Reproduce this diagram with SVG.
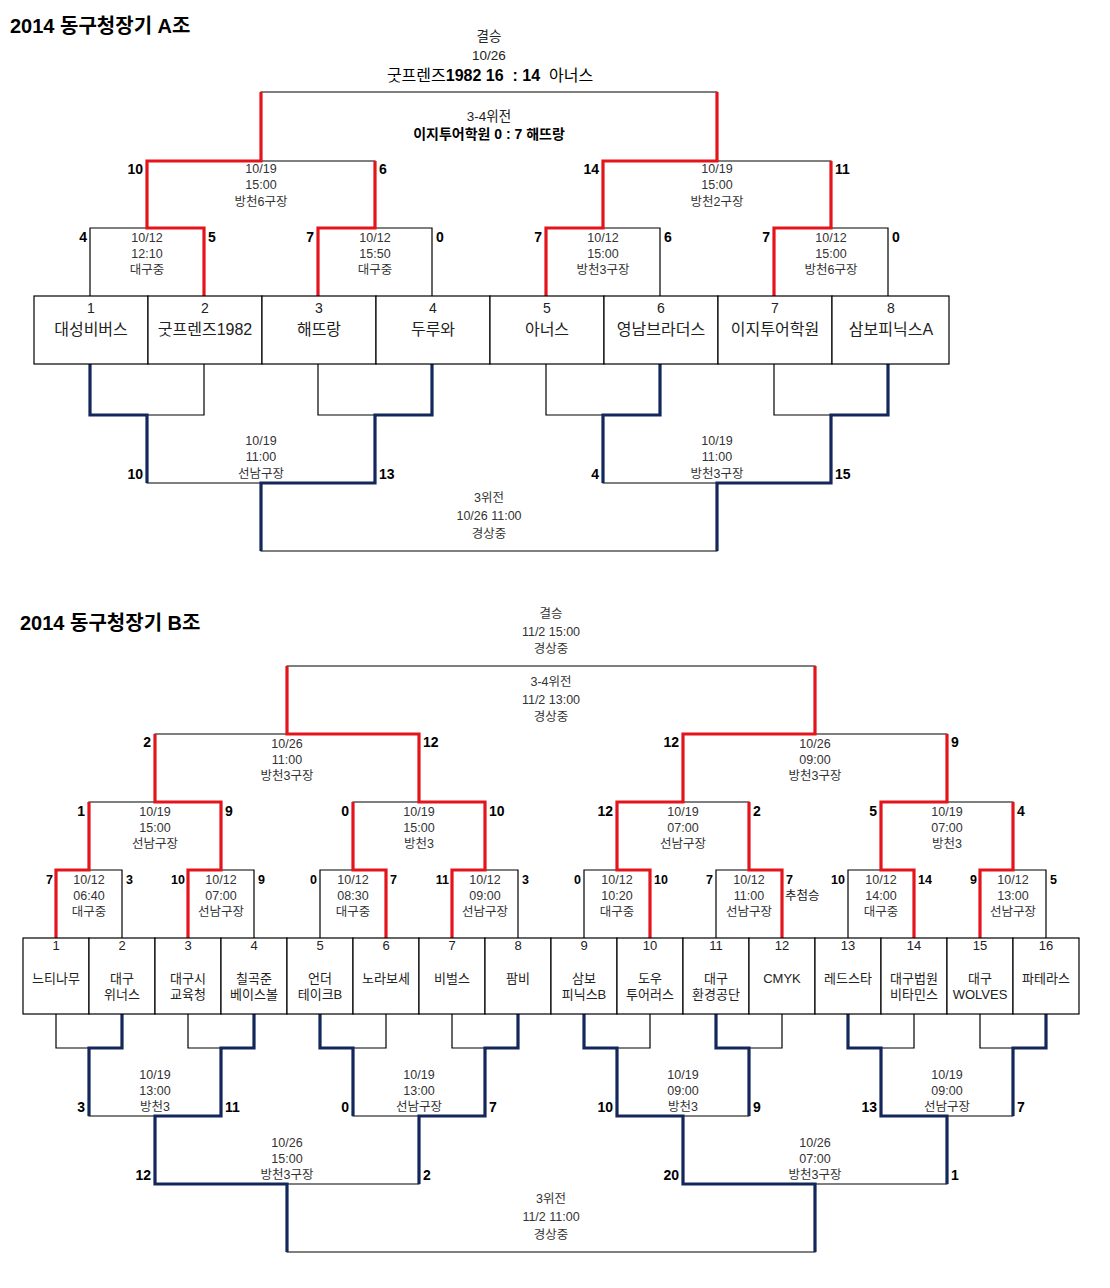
<svg xmlns="http://www.w3.org/2000/svg" width="1110" height="1288" viewBox="0 0 1110 1288">
<style>
text{font-family:"Liberation Sans","Noto Sans CJK KR",sans-serif;}
.th{fill:none;stroke:#000;stroke-width:1.2}
.rd{fill:none;stroke:#e3141c;stroke-width:3.2;stroke-linejoin:miter}
.nv{fill:none;stroke:#13275a;stroke-width:3.2;stroke-linejoin:miter}
.box{fill:#fff;stroke:#000;stroke-width:1.2}
.ttl{font-size:20px;font-weight:bold;fill:#000}
.d{font-size:12.5px;fill:#333;text-anchor:middle}
.h{font-size:13.5px;fill:#222;text-anchor:middle}
.s{font-size:14px;font-weight:bold;fill:#000}
.s2{font-size:12.5px;font-weight:bold;fill:#000}
.e{text-anchor:end}
.tn{font-size:14px;fill:#222;text-anchor:middle}
.tm{font-size:16px;fill:#222;text-anchor:middle}
.bn{font-size:13px;fill:#222;text-anchor:middle}
</style>
<rect width="1110" height="1288" fill="#fff"/>

<text class="ttl" x="10" y="33">2014 동구청장기 A조</text>
<text class="ttl" x="20" y="630">2014 동구청장기 B조</text>

<g id="connectors">
<path class="th" d="M90 296V228H204V296M318 296V228H432V296M546 296V228H660V296M774 296V228H888V296M147 228V161H375V228M603 228V161H831V228M261 161V92H717V161"/>
<path class="th" d="M90 364V415H204V364M318 364V415H432V364M546 364V415H660V364M774 364V415H888V364M147 415V483H375V415M603 415V483H831V415M261 483V551H717V483"/>
<path class="rd" d="M204 296V228H147V161H261V92"/>
<path class="rd" d="M318 296V228H375V161"/>
<path class="rd" d="M546 296V228H603V161H717V92"/>
<path class="rd" d="M774 296V228H831V161"/>
<path class="nv" d="M90 364V415H147V483"/>
<path class="nv" d="M432 364V415H375V483H261V551"/>
<path class="nv" d="M660 364V415H603V483"/>
<path class="nv" d="M888 364V415H831V483H717V551"/>

<path class="th" d="M56 938V870H122V938M188 938V870H254V938M320 938V870H386V938M452 938V870H518V938M584 938V870H650V938M716 938V870H782V938M848 938V870H914V938M980 938V870H1046V938M89 870V802H221V870M353 870V802H485V870M617 870V802H749V870M881 870V802H1013V870M155 802V734H419V802M683 802V734H947V802M287 734V666H815V734"/>
<path class="th" d="M56 1014V1048H122V1014M188 1014V1048H254V1014M320 1014V1048H386V1014M452 1014V1048H518V1014M584 1014V1048H650V1014M716 1014V1048H782V1014M848 1014V1048H914V1014M980 1014V1048H1046V1014M89 1048V1116H221V1048M353 1048V1116H485V1048M617 1048V1116H749V1048M881 1048V1116H1013V1048M155 1116V1184H419V1116M683 1116V1184H947V1116M287 1184V1252H815V1184"/>
<path class="rd" d="M56 938V870H89V802"/>
<path class="rd" d="M188 938V870H221V802H155V734"/>
<path class="rd" d="M386 938V870H353V802"/>
<path class="rd" d="M452 938V870H485V802H419V734H287V666"/>
<path class="rd" d="M650 938V870H617V802H683V734H815V666"/>
<path class="rd" d="M782 938V870H749V802"/>
<path class="rd" d="M914 938V870H881V802H947V734"/>
<path class="rd" d="M980 938V870H1013V802"/>
<path class="nv" d="M122 1014V1048H89V1116"/>
<path class="nv" d="M254 1014V1048H221V1116H155V1184H287V1252"/>
<path class="nv" d="M320 1014V1048H353V1116"/>
<path class="nv" d="M518 1014V1048H485V1116H419V1184"/>
<path class="nv" d="M584 1014V1048H617V1116H683V1184H815V1252"/>
<path class="nv" d="M716 1014V1048H749V1116"/>
<path class="nv" d="M848 1014V1048H881V1116H947V1184"/>
<path class="nv" d="M1046 1014V1048H1013V1116"/>
</g>

<g id="a-final">
<text class="h" x="489" y="41">결승</text>
<text class="h" x="489" y="60">10/26</text>
<text x="490" y="81" xml:space="preserve" style="font-size:16px;text-anchor:middle;fill:#000"><tspan>굿프렌즈</tspan><tspan font-weight="bold">1982 16  : 14  </tspan><tspan>아너스</tspan></text>
<text class="h" x="489" y="121">3-4위전</text>
<text x="489" y="139" style="font-size:14px;font-weight:bold;text-anchor:middle;fill:#000">이지투어학원 0 : 7 해뜨랑</text>
</g>
<g id="a-r2-1"><text class="d" x="261" y="173">10/19</text><text class="d" x="261" y="189">15:00</text><text class="d" x="261" y="206">방천6구장</text><text class="s e" x="143" y="174">10</text><text class="s" x="379" y="174">6</text></g>
<g id="a-r2-2"><text class="d" x="717" y="173">10/19</text><text class="d" x="717" y="189">15:00</text><text class="d" x="717" y="206">방천2구장</text><text class="s e" x="599" y="174">14</text><text class="s" x="835" y="174">11</text></g>
<g id="a-r1-1"><text class="d" x="147" y="242">10/12</text><text class="d" x="147" y="258">12:10</text><text class="d" x="147" y="274">대구중</text><text class="s e" x="87" y="242">4</text><text class="s" x="208" y="242">5</text></g>
<g id="a-r1-2"><text class="d" x="375" y="242">10/12</text><text class="d" x="375" y="258">15:50</text><text class="d" x="375" y="274">대구중</text><text class="s e" x="314" y="242">7</text><text class="s" x="436" y="242">0</text></g>
<g id="a-r1-3"><text class="d" x="603" y="242">10/12</text><text class="d" x="603" y="258">15:00</text><text class="d" x="603" y="274">방천3구장</text><text class="s e" x="542" y="242">7</text><text class="s" x="664" y="242">6</text></g>
<g id="a-r1-4"><text class="d" x="831" y="242">10/12</text><text class="d" x="831" y="258">15:00</text><text class="d" x="831" y="274">방천6구장</text><text class="s e" x="770" y="242">7</text><text class="s" x="892" y="242">0</text></g>

<g id="a-team-1"><rect class="box" x="34" y="296" width="114" height="68"/><text class="tn" x="91" y="313">1</text><text class="tm" x="91" y="335">대성비버스</text></g>
<g id="a-team-2"><rect class="box" x="148" y="296" width="114" height="68"/><text class="tn" x="205" y="313">2</text><text class="tm" x="205" y="335">굿프렌즈1982</text></g>
<g id="a-team-3"><rect class="box" x="262" y="296" width="114" height="68"/><text class="tn" x="319" y="313">3</text><text class="tm" x="319" y="335">해뜨랑</text></g>
<g id="a-team-4"><rect class="box" x="376" y="296" width="114" height="68"/><text class="tn" x="433" y="313">4</text><text class="tm" x="433" y="335">두루와</text></g>
<g id="a-team-5"><rect class="box" x="490" y="296" width="114" height="68"/><text class="tn" x="547" y="313">5</text><text class="tm" x="547" y="335">아너스</text></g>
<g id="a-team-6"><rect class="box" x="604" y="296" width="114" height="68"/><text class="tn" x="661" y="313">6</text><text class="tm" x="661" y="335">영남브라더스</text></g>
<g id="a-team-7"><rect class="box" x="718" y="296" width="114" height="68"/><text class="tn" x="775" y="313">7</text><text class="tm" x="775" y="335">이지투어학원</text></g>
<g id="a-team-8"><rect class="box" x="832" y="296" width="117" height="68"/><text class="tn" x="891" y="313">8</text><text class="tm" x="891" y="335">삼보피닉스A</text></g>

<g id="a-l2-1"><text class="d" x="261" y="445">10/19</text><text class="d" x="261" y="461">11:00</text><text class="d" x="261" y="478">선남구장</text><text class="s e" x="143" y="479">10</text><text class="s" x="379" y="479">13</text></g>
<g id="a-l2-2"><text class="d" x="717" y="445">10/19</text><text class="d" x="717" y="461">11:00</text><text class="d" x="717" y="478">방천3구장</text><text class="s e" x="599" y="479">4</text><text class="s" x="835" y="479">15</text></g>
<g id="a-third"><text class="d" x="489" y="502">3위전</text><text class="d" x="489" y="520">10/26 11:00</text><text class="d" x="489" y="538">경상중</text></g>

<g id="b-final"><text class="d" x="551" y="618">결승</text><text class="d" x="551" y="636">11/2 15:00</text><text class="d" x="551" y="653">경상중</text>
<text class="d" x="551" y="686">3-4위전</text><text class="d" x="551" y="704">11/2 13:00</text><text class="d" x="551" y="721">경상중</text></g>
<g id="b-r3-1"><text class="d" x="287" y="748">10/26</text><text class="d" x="287" y="764">11:00</text><text class="d" x="287" y="780">방천3구장</text><text class="s e" x="151" y="747">2</text><text class="s" x="423" y="747">12</text></g>
<g id="b-r3-2"><text class="d" x="815" y="748">10/26</text><text class="d" x="815" y="764">09:00</text><text class="d" x="815" y="780">방천3구장</text><text class="s e" x="679" y="747">12</text><text class="s" x="951" y="747">9</text></g>
<g id="b-r2-1"><text class="d" x="155" y="816">10/19</text><text class="d" x="155" y="832">15:00</text><text class="d" x="155" y="848">선남구장</text><text class="s e" x="85" y="816">1</text><text class="s" x="225" y="816">9</text></g>
<g id="b-r2-2"><text class="d" x="419" y="816">10/19</text><text class="d" x="419" y="832">15:00</text><text class="d" x="419" y="848">방천3</text><text class="s e" x="349" y="816">0</text><text class="s" x="489" y="816">10</text></g>
<g id="b-r2-3"><text class="d" x="683" y="816">10/19</text><text class="d" x="683" y="832">07:00</text><text class="d" x="683" y="848">선남구장</text><text class="s e" x="613" y="816">12</text><text class="s" x="753" y="816">2</text></g>
<g id="b-r2-4"><text class="d" x="947" y="816">10/19</text><text class="d" x="947" y="832">07:00</text><text class="d" x="947" y="848">방천3</text><text class="s e" x="877" y="816">5</text><text class="s" x="1017" y="816">4</text></g>

<g id="b-r1-1"><text class="d" x="89" y="884">10/12</text><text class="d" x="89" y="900">06:40</text><text class="d" x="89" y="916">대구중</text><text class="s2 e" x="53" y="884">7</text><text class="s2" x="126" y="884">3</text></g>
<g id="b-r1-2"><text class="d" x="221" y="884">10/12</text><text class="d" x="221" y="900">07:00</text><text class="d" x="221" y="916">선남구장</text><text class="s2 e" x="185" y="884">10</text><text class="s2" x="258" y="884">9</text></g>
<g id="b-r1-3"><text class="d" x="353" y="884">10/12</text><text class="d" x="353" y="900">08:30</text><text class="d" x="353" y="916">대구중</text><text class="s2 e" x="317" y="884">0</text><text class="s2" x="390" y="884">7</text></g>
<g id="b-r1-4"><text class="d" x="485" y="884">10/12</text><text class="d" x="485" y="900">09:00</text><text class="d" x="485" y="916">선남구장</text><text class="s2 e" x="449" y="884">11</text><text class="s2" x="522" y="884">3</text></g>
<g id="b-r1-5"><text class="d" x="617" y="884">10/12</text><text class="d" x="617" y="900">10:20</text><text class="d" x="617" y="916">대구중</text><text class="s2 e" x="581" y="884">0</text><text class="s2" x="654" y="884">10</text></g>
<g id="b-r1-6"><text class="d" x="749" y="884">10/12</text><text class="d" x="749" y="900">11:00</text><text class="d" x="749" y="916">선남구장</text><text class="s2 e" x="713" y="884">7</text><text class="s2" x="786" y="884">7</text><text x="785" y="900" style="font-size:12.5px;fill:#222">추첨승</text></g>
<g id="b-r1-7"><text class="d" x="881" y="884">10/12</text><text class="d" x="881" y="900">14:00</text><text class="d" x="881" y="916">대구중</text><text class="s2 e" x="845" y="884">10</text><text class="s2" x="918" y="884">14</text></g>
<g id="b-r1-8"><text class="d" x="1013" y="884">10/12</text><text class="d" x="1013" y="900">13:00</text><text class="d" x="1013" y="916">선남구장</text><text class="s2 e" x="977" y="884">9</text><text class="s2" x="1050" y="884">5</text></g>

<g id="b-team-1"><rect class="box" x="23" y="938" width="66" height="76"/><text class="bn" x="56" y="950">1</text><text class="bn" x="56" y="983">느티나무</text></g>
<g id="b-team-2"><rect class="box" x="89" y="938" width="66" height="76"/><text class="bn" x="122" y="950">2</text><text class="bn" x="122" y="983">대구</text><text class="bn" x="122" y="999">위너스</text></g>
<g id="b-team-3"><rect class="box" x="155" y="938" width="66" height="76"/><text class="bn" x="188" y="950">3</text><text class="bn" x="188" y="983">대구시</text><text class="bn" x="188" y="999">교육청</text></g>
<g id="b-team-4"><rect class="box" x="221" y="938" width="66" height="76"/><text class="bn" x="254" y="950">4</text><text class="bn" x="254" y="983">칠곡준</text><text class="bn" x="254" y="999">베이스볼</text></g>
<g id="b-team-5"><rect class="box" x="287" y="938" width="66" height="76"/><text class="bn" x="320" y="950">5</text><text class="bn" x="320" y="983">언더</text><text class="bn" x="320" y="999">테이크B</text></g>
<g id="b-team-6"><rect class="box" x="353" y="938" width="66" height="76"/><text class="bn" x="386" y="950">6</text><text class="bn" x="386" y="983">노라보세</text></g>
<g id="b-team-7"><rect class="box" x="419" y="938" width="66" height="76"/><text class="bn" x="452" y="950">7</text><text class="bn" x="452" y="983">비벌스</text></g>
<g id="b-team-8"><rect class="box" x="485" y="938" width="66" height="76"/><text class="bn" x="518" y="950">8</text><text class="bn" x="518" y="983">팜비</text></g>
<g id="b-team-9"><rect class="box" x="551" y="938" width="66" height="76"/><text class="bn" x="584" y="950">9</text><text class="bn" x="584" y="983">삼보</text><text class="bn" x="584" y="999">피닉스B</text></g>
<g id="b-team-10"><rect class="box" x="617" y="938" width="66" height="76"/><text class="bn" x="650" y="950">10</text><text class="bn" x="650" y="983">도우</text><text class="bn" x="650" y="999">투어러스</text></g>
<g id="b-team-11"><rect class="box" x="683" y="938" width="66" height="76"/><text class="bn" x="716" y="950">11</text><text class="bn" x="716" y="983">대구</text><text class="bn" x="716" y="999">환경공단</text></g>
<g id="b-team-12"><rect class="box" x="749" y="938" width="66" height="76"/><text class="bn" x="782" y="950">12</text><text class="bn" x="782" y="983">CMYK</text></g>
<g id="b-team-13"><rect class="box" x="815" y="938" width="66" height="76"/><text class="bn" x="848" y="950">13</text><text class="bn" x="848" y="983">레드스타</text></g>
<g id="b-team-14"><rect class="box" x="881" y="938" width="66" height="76"/><text class="bn" x="914" y="950">14</text><text class="bn" x="914" y="983">대구법원</text><text class="bn" x="914" y="999">비타민스</text></g>
<g id="b-team-15"><rect class="box" x="947" y="938" width="66" height="76"/><text class="bn" x="980" y="950">15</text><text class="bn" x="980" y="983">대구</text><text class="bn" x="980" y="999">WOLVES</text></g>
<g id="b-team-16"><rect class="box" x="1013" y="938" width="66" height="76"/><text class="bn" x="1046" y="950">16</text><text class="bn" x="1046" y="983">파테라스</text></g>

<g id="b-l2-1"><text class="d" x="155" y="1079">10/19</text><text class="d" x="155" y="1095">13:00</text><text class="d" x="155" y="1111">방천3</text><text class="s e" x="85" y="1112">3</text><text class="s" x="225" y="1112">11</text></g>
<g id="b-l2-2"><text class="d" x="419" y="1079">10/19</text><text class="d" x="419" y="1095">13:00</text><text class="d" x="419" y="1111">선남구장</text><text class="s e" x="349" y="1112">0</text><text class="s" x="489" y="1112">7</text></g>
<g id="b-l2-3"><text class="d" x="683" y="1079">10/19</text><text class="d" x="683" y="1095">09:00</text><text class="d" x="683" y="1111">방천3</text><text class="s e" x="613" y="1112">10</text><text class="s" x="753" y="1112">9</text></g>
<g id="b-l2-4"><text class="d" x="947" y="1079">10/19</text><text class="d" x="947" y="1095">09:00</text><text class="d" x="947" y="1111">선남구장</text><text class="s e" x="877" y="1112">13</text><text class="s" x="1017" y="1112">7</text></g>
<g id="b-l3-1"><text class="d" x="287" y="1147">10/26</text><text class="d" x="287" y="1163">15:00</text><text class="d" x="287" y="1179">방천3구장</text><text class="s e" x="151" y="1180">12</text><text class="s" x="423" y="1180">2</text></g>
<g id="b-l3-2"><text class="d" x="815" y="1147">10/26</text><text class="d" x="815" y="1163">07:00</text><text class="d" x="815" y="1179">방천3구장</text><text class="s e" x="679" y="1180">20</text><text class="s" x="951" y="1180">1</text></g>
<g id="b-third"><text class="d" x="551" y="1203">3위전</text><text class="d" x="551" y="1221">11/2 11:00</text><text class="d" x="551" y="1239">경상중</text></g>
</svg>
